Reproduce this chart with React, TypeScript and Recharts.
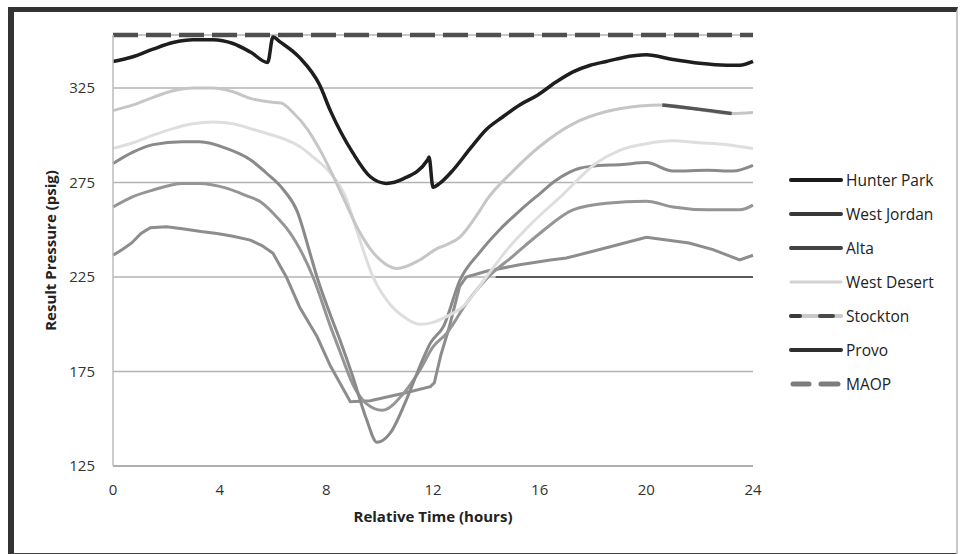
import React from 'react';
import { LineChart, CartesianGrid, XAxis, YAxis, Line } from 'recharts';

const FONT = '"Open Sans", "Noto Sans", sans-serif';

// axis ticks
const xTicks = [0, 4, 8, 12, 16, 20, 24];
const yTicks = [125, 175, 225, 275, 325];
const yDomain = [125, 353];

// values (hours, psig)
const hunterParkHours = [0, 0.75, 1.5, 2.25, 3, 3.75, 4.5, 5.15, 5.8, 6.0, 6.25, 7, 7.75, 8.15, 9, 9.65, 10.25, 10.9, 11.8, 11.85, 12.0, 12.25, 12.75, 13.4, 14, 14.6, 15.25, 15.9, 16.6, 17.25, 17.9, 18.5, 19.1, 20, 21, 22, 23, 23.5, 24];
const hunterPark = [339, 341.5, 345.5, 349, 350.5, 350.5, 348.5, 344, 338.5, 352, 349.5, 341, 326.5, 313, 290.5, 278, 274.5, 277, 287, 288.5, 272.5, 274.5, 281.5, 293, 303, 309.5, 316, 321, 328, 333.5, 337, 339, 341, 342.5, 340, 338, 337, 337, 339];

const westJordanHours = [0, 0.75, 1.5, 2.6, 3.25, 4.25, 5.15, 5.75, 6.4, 6.9, 7.4, 7.65, 8.15, 8.5, 9.0, 9.5, 9.9, 10.4, 11.0, 11.5, 11.9, 12.4, 13.0, 13.75, 14.5, 15.25, 16, 16.6, 17.5, 17.9, 19.1, 20, 21, 22.3, 23.25, 24];
const westJordan = [285, 291, 295, 296.5, 296.5, 293, 287, 280, 271, 260, 237, 225, 205, 192, 172, 150, 137.5, 142.5, 160, 177.5, 190, 199, 223, 238, 250, 260, 269, 276, 282.5, 283.5, 284.5, 285.5, 281, 281.5, 281, 284];

const altaHours = [0, 0.75, 1.5, 2.6, 3.25, 4.25, 5.0, 5.5, 6.25, 6.5, 7.0, 7.5, 8.15, 8.5, 9.0, 9.5, 10.1, 10.9, 11.5, 12.0, 12.5, 13.25, 14, 15, 16, 17.25, 18.5, 20, 21, 22.3, 23.5, 24];
const alta = [262, 267.5, 271, 274.5, 274.5, 272, 268, 265, 255, 251, 240, 225, 199, 186, 168, 158, 154.5, 163.5, 175.5, 188, 195, 211, 224, 236, 248, 260.5, 264, 265, 262, 260.5, 260.5, 263];

const westDesertHours = [0, 0.75, 1.5, 2.25, 3, 3.75, 4.5, 5.15, 5.75, 6.5, 7, 7.5, 8.15, 8.7, 9.2, 9.75, 10.25, 11, 11.5, 12, 12.5, 13.1, 14, 14.75, 15.6, 16.9, 18.1, 19, 20, 21, 22, 23, 24];
const westDesert = [293, 296, 300, 303.5, 306, 307, 306, 303.5, 301, 297.5, 294, 288.5, 280, 268, 247, 225, 213, 203, 200, 201, 204, 209, 225, 239, 252, 269, 285, 292, 295.5, 297, 296, 295, 293];

const stocktonHours = [0, 0.75, 1.5, 2.25, 3, 3.75, 4.5, 5.15, 5.9, 6.3, 6.75, 7.3, 7.75, 8.15, 8.7, 9.2, 9.75, 10.2, 10.65, 11.5, 12.15, 12.5, 13, 13.75, 14, 15, 16, 17.25, 18.5, 19.75, 20.6, 23.2, 24];
const stockton = [313, 316, 320, 323.5, 325, 325, 323, 319.5, 317.5, 317, 312, 303, 292.5, 281.5, 265, 250, 238, 232, 229.5, 234, 240, 242, 246, 260, 265.5, 281, 294, 306, 312.5, 315.5, 316, 311.5, 312];
const stocktonDarkHours = [20.6, 21.5, 22.4, 23.2];
const stocktonDark = [316, 314.5, 313, 311.5];

const provoHours = [0, 0.35, 0.7, 1.05, 1.4, 2.0, 2.6, 3.3, 3.9, 4.5, 5.15, 5.6, 6.0, 6.5, 7.0, 7.65, 8.15, 8.9, 9.65, 10.9, 11.9, 12.05, 12.3, 12.6, 13.0, 13.25, 14, 15.25, 16.4, 17, 18.25, 20, 21.6, 22.5, 23.5, 24];
const provo = [236.5, 239.5, 243, 248, 251, 251.5, 250.5, 249, 248, 246.5, 244.5, 241.5, 237.5, 225, 209, 193.5, 178, 159, 159.5, 163.5, 167, 169, 184, 198, 220, 225, 228, 231.5, 234, 235, 239.5, 246, 243, 239.5, 234, 236.5];

const flatHours = [14.35, 24];
const flat = [225, 225];

const maopHours = [0, 24];
const maop = [353, 353];

const zip = (hours: number[], vals: number[]) => hours.map((t, i) => ({ t, v: vals[i] }));

const series = [
  { key: 'provo', data: zip(provoHours, provo), color: '#8d8d8d', width: 3, curve: 'linear' },
  { key: 'alta', data: zip(altaHours, alta), color: '#959595', width: 3, curve: 'monotone' },
  { key: 'westJordan', data: zip(westJordanHours, westJordan), color: '#8a8a8a', width: 3, curve: 'monotone' },
  { key: 'flat', data: zip(flatHours, flat), color: '#5a5a5a', width: 2, curve: 'linear' },
  { key: 'westDesert', data: zip(westDesertHours, westDesert), color: '#dedede', width: 3, curve: 'monotone' },
  { key: 'stockton', data: zip(stocktonHours, stockton), color: '#c6c6c6', width: 3, curve: 'monotone' },
  { key: 'stocktonDark', data: zip(stocktonDarkHours, stocktonDark), color: '#555555', width: 3.5, curve: 'linear' },
  { key: 'hunterPark', data: zip(hunterParkHours, hunterPark), color: '#1e1e1e', width: 3.5, curve: 'monotone' },
];

const legendNames = ['Hunter Park', 'West Jordan', 'Alta', 'West Desert', 'Stockton', 'Provo', 'MAOP'];

const LegendIcon = ({ name, y }: { name: string; y: number }) => {
  const x1 = 3;
  const x2 = 53;
  if (name === 'MAOP') {
    return (
      <g stroke="#7d7d7d" strokeWidth={5} strokeLinecap="round">
        <line x1={x1 + 2} y1={y} x2={x1 + 18} y2={y} />
        <line x1={x1 + 30} y1={y} x2={x1 + 47} y2={y} />
      </g>
    );
  }
  if (name === 'Stockton') {
    return (
      <g strokeWidth={4} strokeLinecap="round">
        <line x1={x1} y1={y} x2={x2} y2={y} stroke="#c9c9c9" />
        <line x1={x1} y1={y} x2={x1 + 9} y2={y} stroke="#3a3a3a" />
        <line x1={x1 + 29} y1={y} x2={x1 + 42} y2={y} stroke="#4a4a4a" />
      </g>
    );
  }
  const colors: Record<string, string> = {
    'Hunter Park': '#1a1a1a',
    'West Jordan': '#383838',
    Alta: '#444444',
    'West Desert': '#d2d2d2',
    Provo: '#2e2e2e',
  };
  return <line x1={x1} y1={y} x2={x2} y2={y} stroke={colors[name]} strokeWidth={name === 'West Desert' ? 3 : 4} strokeLinecap="round" />;
};

const ChartLegend = () => (
  <svg width={175} height={240} style={{ position: 'absolute', left: 788, top: 163 }}>
    {legendNames.map((name, i) => {
      const y = 17 + i * 34;
      return (
        <g key={name}>
          <LegendIcon name={name} y={y} />
          <text x={58} y={y} dominantBaseline="central" fontFamily={FONT} fontSize={15.5} fill="#222">
            {name}
          </text>
        </g>
      );
    })}
  </svg>
);

export default function App() {
  const tickStyle = { fontSize: 15, fill: '#333', fontFamily: FONT };
  const titleStyle = { fontSize: 15, fontWeight: 700, fill: '#222', fontFamily: FONT };
  return (
    <div style={{ position: 'fixed', left: 0, top: 0, width: 960, height: 554, background: '#fff', overflow: 'hidden' }}>
      <div
        style={{
          position: 'absolute',
          left: 8,
          top: 7,
          width: 950,
          height: 550,
          boxSizing: 'border-box',
          borderTop: '5px solid #333',
          borderLeft: '6px solid #333',
          borderBottom: '4px solid #444',
          borderRight: '2px solid #c8c8c8',
        }}
      />
      <div style={{ position: 'absolute', left: 0, top: 0 }}>
        <LineChart width={960} height={554} margin={{ top: 35, right: 207, bottom: 48, left: -11 }}>
          <CartesianGrid vertical={false} stroke="#b3b3b3" strokeWidth={1.5} />
          <XAxis
            type="number"
            dataKey="t"
            domain={[0, 24]}
            ticks={xTicks}
            height={40}
            tickSize={0}
            tickMargin={18}
            tickLine={false}
            axisLine={{ stroke: '#b0b0b0', strokeWidth: 2 }}
            tick={tickStyle}
            label={{ value: 'Relative Time (hours)', position: 'bottom', offset: 5, style: titleStyle }}
          />
          <YAxis
            type="number"
            domain={yDomain}
            ticks={yTicks}
            width={124}
            tickSize={0}
            tickMargin={18}
            tickLine={false}
            axisLine={{ stroke: '#bdbdbd', strokeWidth: 1.5 }}
            tick={tickStyle}
            label={{ value: 'Result Pressure (psig)', angle: -90, position: 'center', style: titleStyle }}
          />
          {series.map((s) => (
            <Line
              key={s.key}
              data={s.data}
              dataKey="v"
              type={s.curve as 'linear' | 'monotone'}
              stroke={s.color}
              strokeWidth={s.width}
              dot={false}
              activeDot={false}
              isAnimationActive={false}
            />
          ))}
          <Line
            data={zip(maopHours, maop)}
            dataKey="v"
            type="linear"
            stroke="#4f4f4f"
            strokeWidth={4.5}
            strokeDasharray="25 8"
            dot={false}
            activeDot={false}
            isAnimationActive={false}
          />
        </LineChart>
      </div>
      <ChartLegend />
    </div>
  );
}
